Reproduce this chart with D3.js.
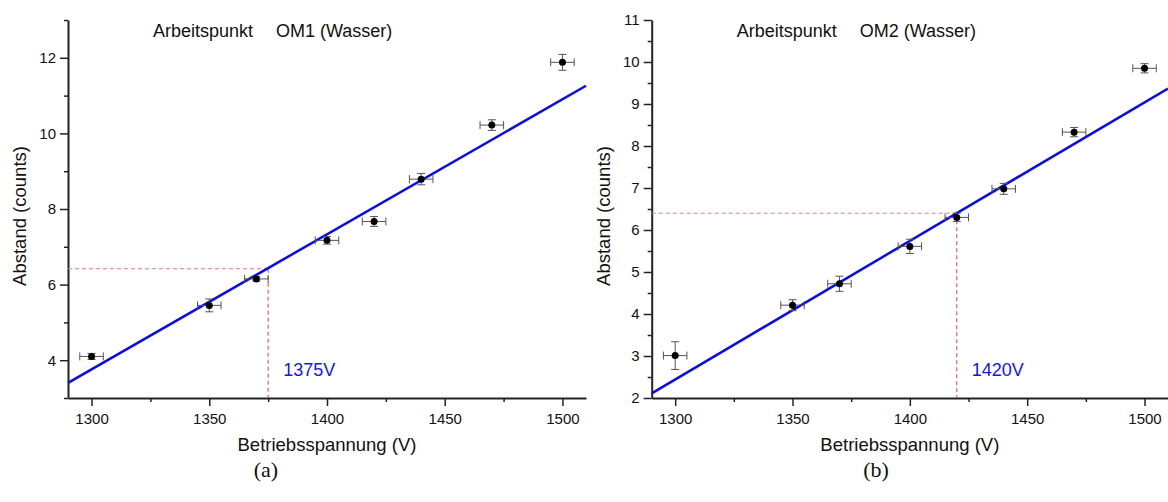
<!DOCTYPE html>
<html>
<head>
<meta charset="utf-8">
<script src="https://cdn.jsdelivr.net/npm/d3@7"></script>
<style>
  body { margin: 0; background: #fff; }
  svg { display: block; font-family: 'Liberation Sans', Arial, sans-serif; }
</style>
</head>
<body>
<div id="container"></div>
<script>
'use strict';

const w = 1168;
const h = 502;

// measured data (Betriebsspannung in V, Abstand in counts)
const voltages = [1300, 1350, 1370, 1400, 1420, 1440, 1470, 1500];
const voltageErr = 5;

const om1Values = [4.10, 5.45, 6.15, 7.17, 7.67, 8.79, 10.22, 11.88];
const om1Errors = [0.08, 0.17, 0.06, 0.10, 0.13, 0.15, 0.14, 0.21];
const om1Fit = [[1290, 3.40], [1510, 11.26]];
const om1WorkPoint = [1375, 6.42];

const om2Values = [3.01, 4.21, 4.72, 5.61, 6.30, 6.98, 8.33, 9.85];
const om2Errors = [0.33, 0.13, 0.18, 0.17, 0.10, 0.13, 0.11, 0.11];
const om2Fit = [[1290, 2.11], [1510, 9.37]];
const om2WorkPoint = [1420, 6.40];

const xDomain = [1290, 1510];
const xMajorTicks = [1300, 1350, 1400, 1450, 1500];
const xMinorTicks = [1325, 1375, 1425, 1475];

const om1YDomain = [3, 13];
const om1YMajorTicks = [4, 6, 8, 10, 12];
const om1YMinorTicks = [3, 5, 7, 9, 11, 13];

const om2YDomain = [2, 11];
const om2YMajorTicks = [2, 3, 4, 5, 6, 7, 8, 9, 10, 11];
const om2YMinorTicks = [2.5, 3.5, 4.5, 5.5, 6.5, 7.5, 8.5, 9.5, 10.5];

const svg = d3.select('#container')
                .append('svg')
                .attr('width', w)
                .attr('height', h)
                .attr('viewBox', '0 0 ' + w + ' ' + h);

const drawPanel = (p) => {
    const top = 20;
    const bottom = 398;
    const xScale = d3.scaleLinear().domain(xDomain).range([p.left, p.right]);
    const yScale = d3.scaleLinear().domain(p.yDomain).range([bottom, top]);
    const g = svg.append('g');

    // axes: minor first, major on top with the domain line
    const styleAxis = (sel) => {
        sel.selectAll('text')
            .attr('font-size', 15)
            .attr('font-family', "'Liberation Sans', Arial, sans-serif")
            .attr('fill', '#111');
        sel.selectAll('line').attr('stroke', '#222').attr('stroke-width', 1.5);
        sel.select('.domain').attr('stroke', '#222').attr('stroke-width', 2);
    };

    g.append('g')
        .attr('transform', 'translate(0, ' + bottom + ')')
        .call(d3.axisBottom(xScale).tickValues(xMinorTicks).tickSize(4).tickFormat(''))
        .call(styleAxis)
        .select('.domain').remove();
    g.append('g')
        .attr('transform', 'translate(' + p.left + ', 0)')
        .call(d3.axisLeft(yScale).tickValues(p.yMinor).tickSize(4).tickFormat(''))
        .call(styleAxis)
        .select('.domain').remove();
    g.append('g')
        .attr('transform', 'translate(0, ' + bottom + ')')
        .call(d3.axisBottom(xScale).tickValues(xMajorTicks).tickFormat(d3.format('d'))
                .tickSize(8).tickSizeOuter(0).tickPadding(7))
        .call(styleAxis);
    g.append('g')
        .attr('transform', 'translate(' + p.left + ', 0)')
        .call(d3.axisLeft(yScale).tickValues(p.yMajor).tickFormat(d3.format('d'))
                .tickSize(8).tickSizeOuter(0).tickPadding(4))
        .call(styleAxis);

    // working point guides
    const wx = xScale(p.work[0]);
    const wy = yScale(p.work[1]);
    g.append('line')
        .attr('x1', xScale(xDomain[0])).attr('x2', wx)
        .attr('y1', wy).attr('y2', wy)
        .attr('stroke', '#e08080')
        .attr('stroke-width', 1)
        .attr('stroke-dasharray', '4,3');
    g.append('line')
        .attr('x1', wx).attr('x2', wx)
        .attr('y1', wy).attr('y2', bottom)
        .attr('stroke', '#c84848')
        .attr('stroke-width', 1)
        .attr('stroke-dasharray', '4,3');

    // fit line
    g.append('path')
        .datum(p.fit)
        .attr('d', d3.line().x((d) => xScale(d[0])).y((d) => yScale(d[1])))
        .attr('fill', 'none')
        .attr('stroke', '#0a0aee')
        .attr('stroke-width', 2.5);

    // data points with error bars
    const pts = voltages.map((v, i) => ({ v: v, a: p.values[i], e: p.errors[i] }));
    const pg = g.selectAll('.pt')
                .data(pts)
                .enter()
                .append('g')
                .attr('class', 'pt');
    const errColor = '#555';
    pg.append('line')
        .attr('x1', (d) => xScale(d.v - voltageErr))
        .attr('x2', (d) => xScale(d.v + voltageErr))
        .attr('y1', (d) => yScale(d.a))
        .attr('y2', (d) => yScale(d.a))
        .attr('stroke', errColor);
    [-1, 1].forEach((s) => {
        pg.append('line')
            .attr('x1', (d) => xScale(d.v + s * voltageErr))
            .attr('x2', (d) => xScale(d.v + s * voltageErr))
            .attr('y1', (d) => yScale(d.a) - 4)
            .attr('y2', (d) => yScale(d.a) + 4)
            .attr('stroke', errColor);
        pg.append('line')
            .attr('x1', (d) => xScale(d.v) - 4)
            .attr('x2', (d) => xScale(d.v) + 4)
            .attr('y1', (d) => yScale(d.a + s * d.e))
            .attr('y2', (d) => yScale(d.a + s * d.e))
            .attr('stroke', errColor);
    });
    pg.append('line')
        .attr('x1', (d) => xScale(d.v))
        .attr('x2', (d) => xScale(d.v))
        .attr('y1', (d) => yScale(d.a - d.e))
        .attr('y2', (d) => yScale(d.a + d.e))
        .attr('stroke', errColor);
    pg.append('circle')
        .attr('cx', (d) => xScale(d.v))
        .attr('cy', (d) => yScale(d.a))
        .attr('r', 3.5)
        .attr('fill', '#000');

    // texts
    g.append('text')
        .attr('x', p.left + 85)
        .attr('y', 37)
        .attr('font-size', 18)
        .attr('fill', '#111')
        .text('Arbeitspunkt');
    g.append('text')
        .attr('x', p.left + 208)
        .attr('y', 37)
        .attr('font-size', 18)
        .attr('fill', '#111')
        .text(p.title);
    g.append('text')
        .attr('x', wx + 15)
        .attr('y', 376)
        .attr('font-size', 18)
        .attr('fill', '#1515e8')
        .text(p.work[0] + 'V');
    g.append('text')
        .attr('x', (p.left + p.right) / 2)
        .attr('y', 451)
        .attr('text-anchor', 'middle')
        .attr('font-size', 18.5)
        .attr('fill', '#111')
        .text('Betriebsspannung (V)');
    g.append('text')
        .attr('transform', 'translate(' + (p.left - 42) + ', 216) rotate(-90)')
        .attr('text-anchor', 'middle')
        .attr('font-size', 18.5)
        .attr('fill', '#111')
        .text('Abstand (counts)');
    g.append('text')
        .attr('x', p.captionX)
        .attr('y', 477)
        .attr('text-anchor', 'middle')
        .attr('font-family', "'Liberation Serif', 'Times New Roman', serif")
        .attr('font-size', 22)
        .attr('fill', '#111')
        .text(p.caption);
};

drawPanel({
    left: 68, right: 586,
    yDomain: om1YDomain, yMajor: om1YMajorTicks, yMinor: om1YMinorTicks,
    values: om1Values, errors: om1Errors, fit: om1Fit, work: om1WorkPoint,
    title: 'OM1 (Wasser)', caption: '(a)', captionX: 266
});

drawPanel({
    left: 651.7, right: 1168,
    yDomain: om2YDomain, yMajor: om2YMajorTicks, yMinor: om2YMinorTicks,
    values: om2Values, errors: om2Errors, fit: om2Fit, work: om2WorkPoint,
    title: 'OM2 (Wasser)', caption: '(b)', captionX: 876
});
</script>
</body>
</html>
